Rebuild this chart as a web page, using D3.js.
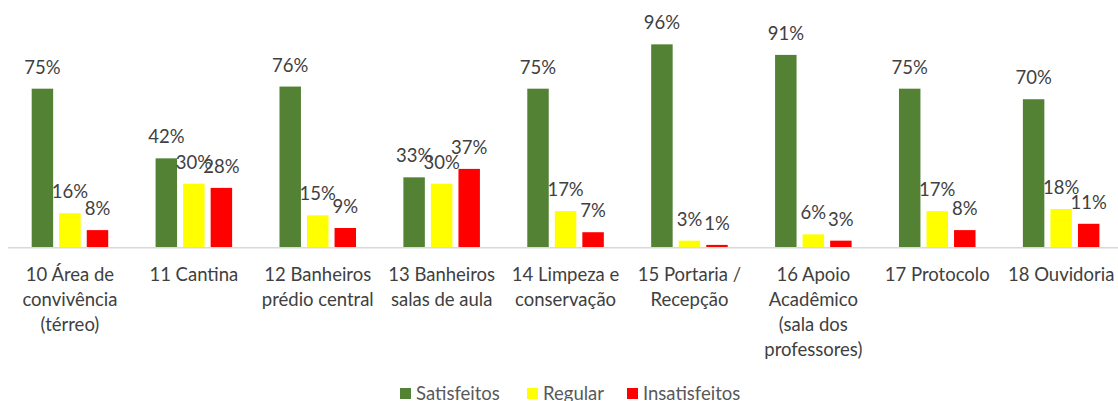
<!DOCTYPE html>
<html lang="pt">
<head>
<meta charset="UTF-8">
<title>Satisfação por serviço</title>
<style>
  html, body { margin: 0; padding: 0; background: #fff; }
  svg { display: block; }
  text { font-family: Lato, "Noto Sans", sans-serif; }
</style>
</head>
<body>
<script src="https://cdn.jsdelivr.net/npm/d3@7"></script>
<div id="chart"></div>
<script>
// categorias (quebras de linha como no original)
const categories = [
  ["10 Área de", "convivência", "(térreo)"],
  ["11 Cantina"],
  ["12 Banheiros", "prédio central"],
  ["13 Banheiros", "salas de aula"],
  ["14 Limpeza e", "conservação"],
  ["15 Portaria /", "Recepção"],
  ["16 Apoio", "Acadêmico", "(sala dos", "professores)"],
  ["17 Protocolo"],
  ["18 Ouvidoria"]
];
const seriesNames = ["Satisfeitos", "Regular", "Insatisfeitos"];
const satisfeitos   = [75, 42, 76, 33, 75, 96, 91, 75, 70];
const regular       = [16, 30, 15, 30, 17, 3, 6, 17, 18];
const insatisfeitos = [8, 28, 9, 37, 7, 1, 3, 8, 11];

const colors = ["#548235", "#FFFF00", "#FF0000"];
const width = 1118, height = 401;
const baseY = 247;

const values = [satisfeitos, regular, insatisfeitos];
const catKeys = categories.map(d => d.join(" "));

const svg = d3.select("#chart").append("svg")
  .attr("width", width)
  .attr("height", height);

// escalas
const x0 = d3.scaleBand()
  .domain(catKeys)
  .range([8, 8 + 9 * 123.9])
  .padding(0);

const x1 = d3.scaleBand()
  .domain(seriesNames)
  .range([0, x0.bandwidth()])
  .paddingInner(0.22)
  .paddingOuter(0.86);

const y = d3.scaleLinear()
  .domain([0, 100])
  .range([baseY, baseY - 211.1]);

// eixo horizontal
svg.append("line")
  .attr("x1", 8).attr("x2", width)
  .attr("y1", baseY + 0.8).attr("y2", baseY + 0.8)
  .attr("stroke", "#d9d9d9")
  .attr("stroke-width", 1.6);

// barras
const groups = svg.append("g").selectAll("g")
  .data(catKeys)
  .join("g")
  .attr("transform", d => "translate(" + x0(d) + ",0)");

groups.selectAll("rect")
  .data((d, i) => seriesNames.map((s, j) => ({ s: s, v: values[j][i], c: colors[j] })))
  .join("rect")
  .attr("x", d => x1(d.s))
  .attr("width", x1.bandwidth())
  .attr("y", d => y(d.v))
  .attr("height", d => baseY - y(d.v))
  .attr("fill", d => d.c);

// rótulos de dados
groups.selectAll("text.lbl")
  .data((d, i) => seriesNames.map((s, j) => ({ s: s, v: values[j][i] })))
  .join("text")
  .attr("class", "lbl")
  .attr("x", d => x1(d.s) + x1.bandwidth() / 2)
  .attr("y", d => y(d.v) - 15)
  .attr("text-anchor", "middle")
  .attr("fill", "#404040")
  .style("font-size", "18.5px")
  .text(d => d.v + "%");

// rótulos das categorias
const catLabels = svg.append("g").selectAll("text")
  .data(categories)
  .join("text")
  .attr("x", (d, i) => x0(catKeys[i]) + x0.bandwidth() / 2)
  .attr("y", 281)
  .attr("text-anchor", "middle")
  .attr("fill", "#404040")
  .style("font-size", "18.5px");

catLabels.selectAll("tspan")
  .data(d => d)
  .join("tspan")
  .attr("x", function() { return this.parentNode.getAttribute("x"); })
  .attr("dy", (d, i) => i === 0 ? 0 : 25)
  .text(d => d);

// legenda
const legendX = [400, 527, 627];
const legend = svg.append("g").selectAll("g")
  .data(seriesNames)
  .join("g")
  .attr("transform", (d, i) => "translate(" + legendX[i] + ",388)");

legend.append("rect")
  .attr("width", 11).attr("height", 11)
  .attr("fill", (d, i) => colors[i]);

legend.append("text")
  .attr("x", 16)
  .attr("y", 12)
  .attr("fill", "#595959")
  .style("font-size", "18.5px")
  .text(d => d);
</script>
</body>
</html>
